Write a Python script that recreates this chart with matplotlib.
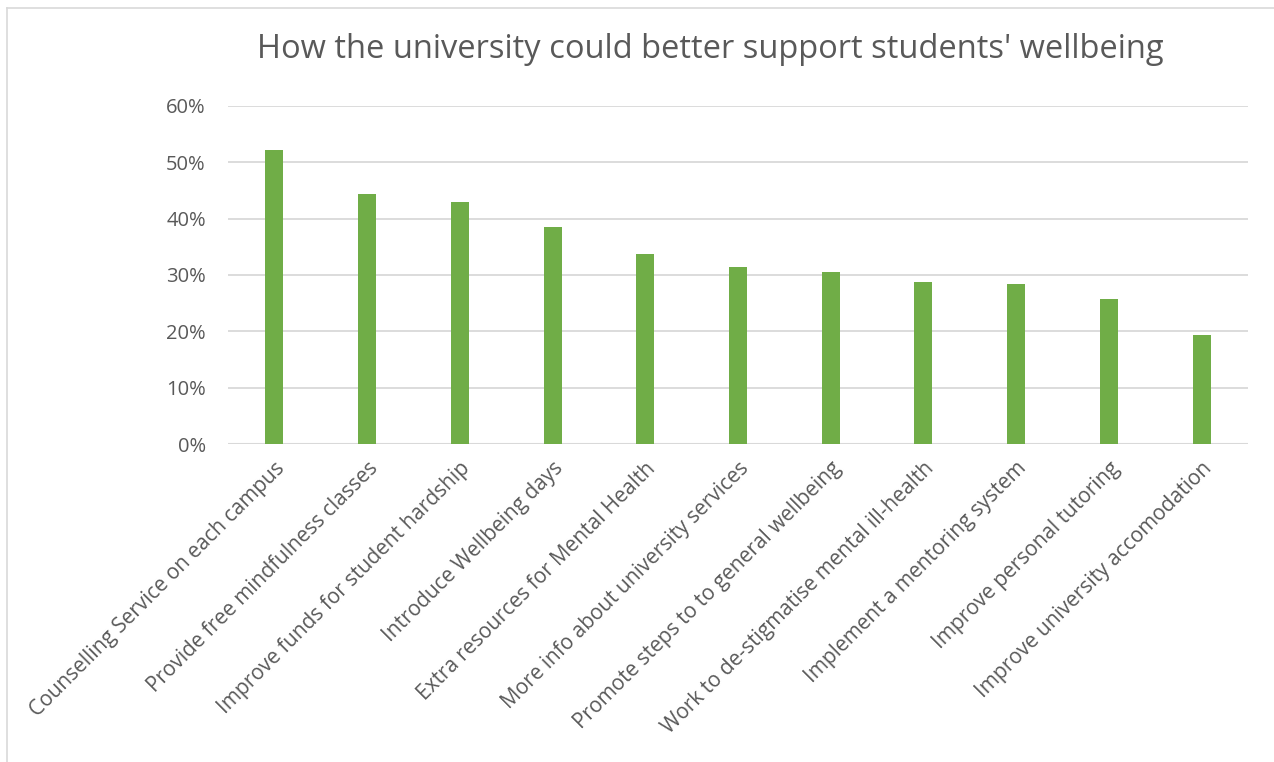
import matplotlib
matplotlib.use("Agg")
import matplotlib.pyplot as plt
from matplotlib.ticker import PercentFormatter
from matplotlib.lines import Line2D

categories = [
    "Counselling Service on each campus",
    "Provide free mindfulness classes",
    "Improve funds for student hardship",
    "Introduce Wellbeing days",
    "Extra resources for Mental Health",
    "More info about university services",
    "Promote steps to to general wellbeing",
    "Work to de-stigmatise mental ill-health",
    "Implement a mentoring system",
    "Improve personal tutoring",
    "Improve university accomodation",
]
values = [52.2, 44.3, 42.9, 38.5, 33.7, 31.5, 30.6, 28.8, 28.4, 25.8, 19.3]
yticks = [0, 10, 20, 30, 40, 50, 60]
title = "How the university could better support students' wellbeing"

W, H = 1274, 762
fig = plt.figure(figsize=(W / 100, H / 100), dpi=100)
fig.patch.set_facecolor("white")

plt.rcParams['font.family'] = ['Open Sans', 'DejaVu Sans']
txt = "#595959"

# axes in pixel coords
left, right, top, bottom = 228, 1248, 106, 444
ax = fig.add_axes([left / W, 1 - bottom / H, (right - left) / W, (bottom - top) / H])

x = list(range(len(categories)))
ax.bar(x, values, width=0.195, color="#70AD47", zorder=3)
ax.set_xlim(-0.5, len(categories) - 0.5)
ax.set_ylim(0, 60)
ax.set_yticks(yticks)
ax.yaxis.set_major_formatter(PercentFormatter(decimals=0))
ax.grid(axis="y", color="#D9D9D9", linewidth=1.3, zorder=0)
for s in ax.spines.values():
    s.set_visible(False)
ax.axhline(0, color="#D9D9D9", linewidth=1.5, zorder=2)
ax.tick_params(axis="both", length=0, colors=txt, labelsize=14.5)
ax.tick_params(axis="y", pad=16)
ax.set_xticks(x)
ax.set_xticklabels(categories, rotation=45, ha="right", va="top",
                   rotation_mode="anchor", color=txt, fontsize=15)
ax.tick_params(axis="x", pad=10)

fig.text(710 / W, 1 - 50 / H, title, ha="center", va="center",
         fontsize=23.5, color=txt)

# chart frame
fig.add_artist(Line2D([7 / W, 1.0], [1 - 8 / H, 1 - 8 / H], transform=fig.transFigure,
                      color="#D9D9D9", linewidth=1.2))
fig.add_artist(Line2D([7 / W, 7 / W], [0, 1 - 8 / H], transform=fig.transFigure,
                      color="#D9D9D9", linewidth=1.2))

# cut-off caption at top
fig.text(0, 1 + 12 / H, "Figure 3", ha="left", va="center", fontsize=16,
         color="black", family=["Liberation Sans", "DejaVu Sans"])

fig.savefig("out.png", dpi=100, facecolor="white")
